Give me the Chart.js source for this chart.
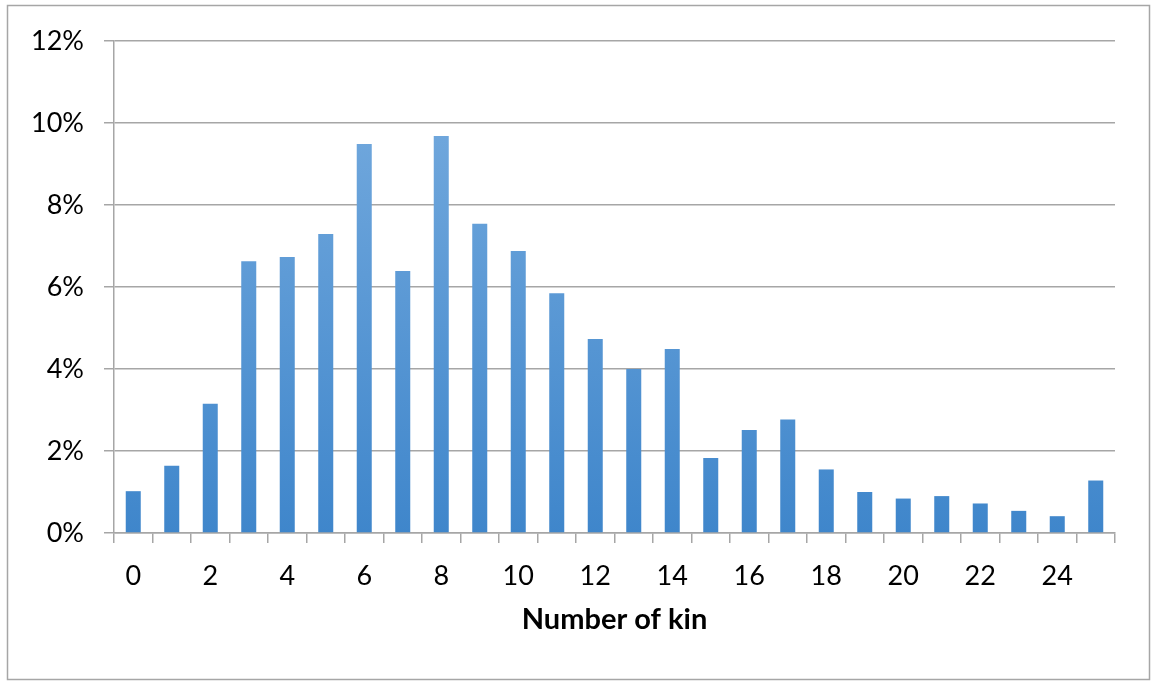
<!DOCTYPE html>
<html>
<head>
<meta charset="utf-8">
<script src="https://cdn.jsdelivr.net/npm/chart.js@4"></script>
<style>
  html, body { margin: 0; padding: 0; background: #fff; }
  #wrap { width: 1152px; height: 682px; position: relative; }
</style>
</head>
<body>
<div id="wrap"><canvas id="chart" width="1152" height="682"></canvas></div>
<script>
// number of kin 0..25
const kinCounts = Array.from({ length: 26 }, (_, i) => String(i));
// share of respondents (%)
const kinShare = [1.02, 1.64, 3.15, 6.63, 6.73, 7.29, 9.49, 6.39, 9.68, 7.54, 6.88, 5.85, 4.73, 4.0,
  4.49, 1.83, 2.51, 2.77, 1.55, 1.0, 0.84, 0.9, 0.72, 0.54, 0.41, 1.28];
const yTicks = [0, 2, 4, 6, 8, 10, 12];

const frame = {
  id: 'frame',
  beforeDraw(chart) {
    const { ctx } = chart;
    ctx.save();
    ctx.fillStyle = '#fff';
    ctx.fillRect(0, 0, chart.width, chart.height);
    ctx.strokeStyle = '#a6a6a6';
    ctx.lineWidth = 1.5;
    ctx.strokeRect(7.5, 5.5, 1142, 674);
    ctx.restore();
  }
};

function barFill(context) {
  const { chart } = context;
  const { ctx, chartArea } = chart;
  if (!chartArea) return '#5b9bd5';
  const g = ctx.createLinearGradient(0, chartArea.top, 0, chartArea.bottom);
  g.addColorStop(0, '#7aaee0');
  g.addColorStop(1, '#3f86cb');
  return g;
}

const font = 'Lato, "Open Sans", sans-serif';

new Chart(document.getElementById('chart').getContext('2d'), {
  type: 'bar',
  data: {
    labels: kinCounts,
    datasets: [{
      label: 'Share',
      data: kinShare,
      backgroundColor: barFill,
      borderWidth: 0,
      barPercentage: 0.39,
      categoryPercentage: 1
    }]
  },
  options: {
    responsive: false,
    animation: false,
    layout: { padding: { left: 0, right: 37, top: 41, bottom: 45 } },
    plugins: {
      legend: { display: false },
      tooltip: { enabled: false }
    },
    scales: {
      x: {
        offset: true,
        grid: {
          offset: true,
          drawOnChartArea: false,
          color: '#a6a6a6',
          tickLength: 10,
          lineWidth: 1.5
        },
        border: { color: '#a6a6a6', width: 1.5 },
        ticks: {
          autoSkip: false,
          maxRotation: 0,
          padding: 17,
          color: '#000',
          font: { family: font, size: 27 },
          callback: (v, i) => (i % 2 === 0 ? kinCounts[i] : '')
        },
        title: {
          display: true,
          text: 'Number of kin',
          color: '#000',
          font: { family: font, size: 29, weight: 'bold' },
          padding: { top: 10, bottom: 0 }
        },
        afterFit(scale) { scale.height = 104; }
      },
      y: {
        min: 0,
        max: 12,
        afterBuildTicks(scale) { scale.ticks = yTicks.map(v => ({ value: v })); },
        grid: { color: '#a6a6a6', tickLength: 10, lineWidth: 1.5 },
        border: { color: '#a6a6a6', width: 1.5 },
        ticks: {
          padding: 20,
          color: '#000',
          font: { family: font, size: 27 },
          callback: v => v + '%'
        },
        afterFit(scale) { scale.width = 114; }
      }
    }
  },
  plugins: [frame]
});
</script>
</body>
</html>
